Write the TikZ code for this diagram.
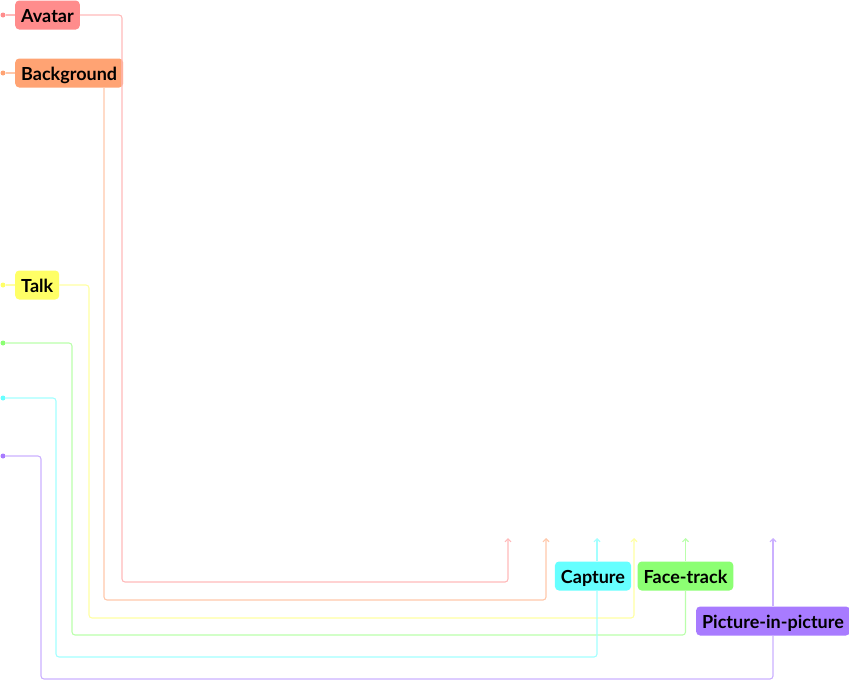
\documentclass[tikz,border=0pt]{standalone}
\usepackage{fontspec}
\setmainfont{Lato}
\usetikzlibrary{arrows.meta}

\definecolor{avatarcol}{HTML}{FF8C8C}
\definecolor{bgcol}{HTML}{FFA373}
\definecolor{talkcol}{HTML}{FFFF66}
\definecolor{facecol}{HTML}{8CFF73}
\definecolor{capcol}{HTML}{66FFFF}
\definecolor{pipcol}{HTML}{A87BFF}

\tikzset{
  tag/.style={fill=#1, rounded corners=4pt, inner xsep=6pt, inner ysep=0pt,
    minimum height=29pt, text height=15pt, text depth=1pt,
    font=\bfseries\fontsize{18}{18}\selectfont},
  wire/.style={draw=#1!60, line width=1.1pt, rounded corners=3pt},
  dot/.style={circle, fill=#1, inner sep=0pt, minimum size=5pt},
  tip/.style={-{Straight Barb[length=3pt, width=6pt]}},
}

\begin{document}
\begin{tikzpicture}[x=1pt, y=-1pt]
  \useasboundingbox (0, 0) rectangle (849, 680);

  \node[dot=avatarcol] (avatar-dot) at (3, 15) {};
  \node[dot=bgcol] (bg-dot) at (3, 73) {};
  \node[dot=talkcol] (talk-dot) at (3, 285) {};
  \node[dot=facecol] (face-dot) at (3, 343) {};
  \node[dot=capcol] (cap-dot) at (3, 398) {};
  \node[dot=pipcol] (pip-dot) at (3, 456) {};

  \node[tag=avatarcol, anchor=west] (avatar) at (15, 15) {Avatar};
  \node[tag=bgcol, anchor=west] (bg) at (15, 73) {Background};
  \node[tag=talkcol, anchor=west] (talk) at (15, 285) {Talk};
  \node[tag=capcol] (cap) at (593, 576) {Capture};
  \node[tag=facecol] (face) at (685.5, 576) {Face-track};
  \node[tag=pipcol] (pip) at (773, 621) {Picture-in-picture};

  \coordinate (avatar-end) at (508, 538);
  \coordinate (bg-end) at (546, 538);
  \coordinate (talk-end) at (634, 538);
  \coordinate (face-end) at (face.north |- {(0, 538)});
  \coordinate (cap-end) at (597, 538);
  \coordinate (pip-end) at (pip.north |- {(0, 538)});

  \draw[wire=avatarcol] (avatar-dot) -- (avatar);
  \draw[wire=avatarcol, tip] (avatar) -| (122, 582) -| (avatar-end);

  \draw[wire=bgcol] (bg-dot) -- (bg);
  \draw[wire=bgcol, tip] (bg.south -| {(104, 0)}) -- (104, 600) -| (bg-end);

  \draw[wire=talkcol] (talk-dot) -- (talk);
  \draw[wire=talkcol, tip] (talk) -| (89, 618) -| (talk-end);

  \draw[wire=facecol] (face-dot) -| (72, 635) -| (face);
  \draw[wire=facecol, tip] (face) -- (face-end);

  \draw[wire=capcol] (cap-dot) -| (56, 657) -| (cap.south -| {(597, 0)});
  \draw[wire=capcol, tip] (cap.north -| {(597, 0)}) -- (cap-end);

  \draw[wire=pipcol] (pip-dot) -| (41, 679) -| (pip);
  \draw[wire=pipcol, tip] (pip) -- (pip-end);
\end{tikzpicture}
\end{document}
